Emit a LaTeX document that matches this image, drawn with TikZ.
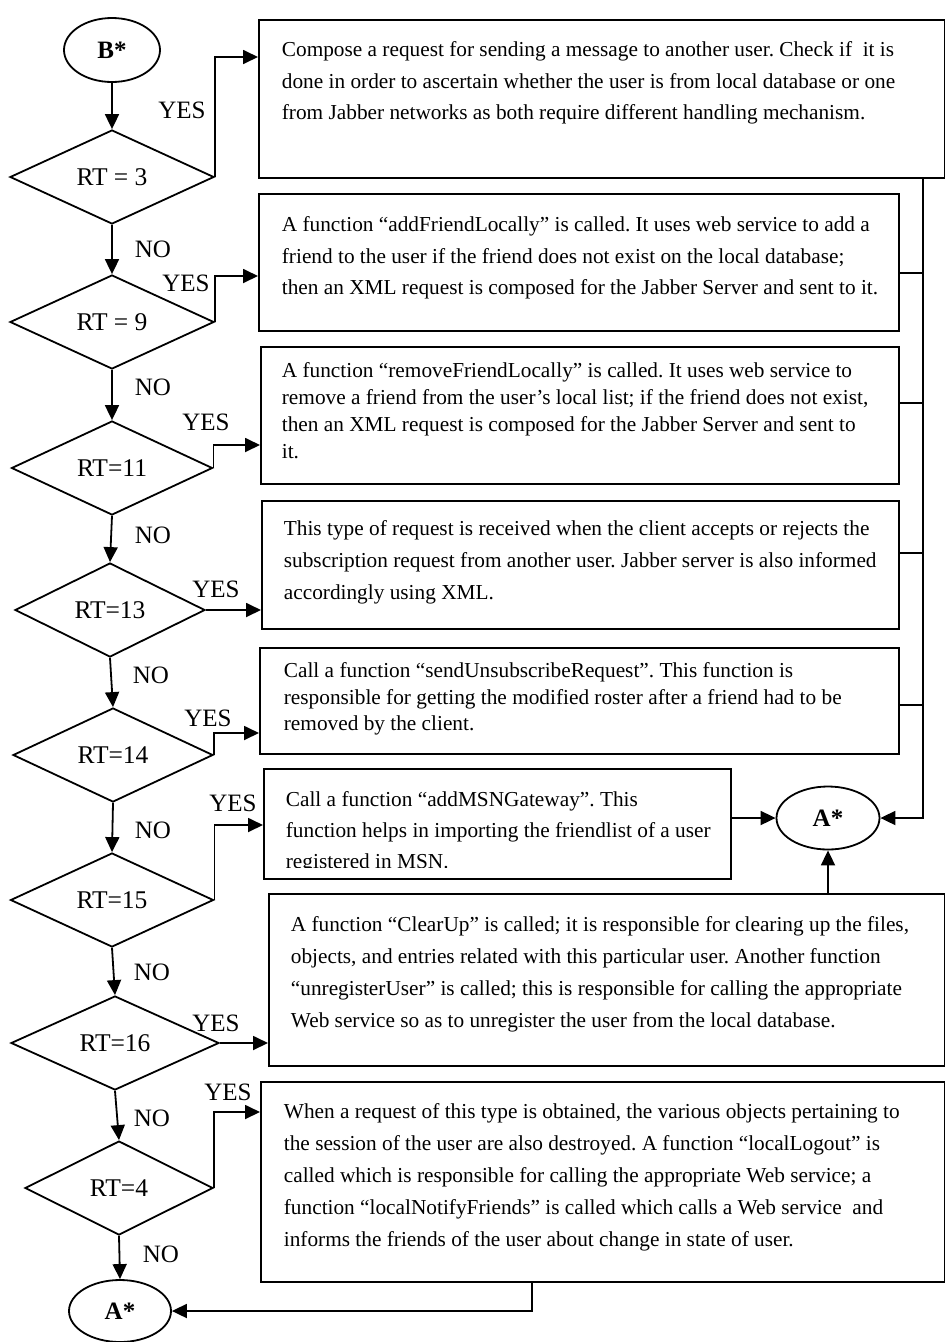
\documentclass[tikz,border=0pt]{standalone}
\usepackage{fontspec}
\setmainfont{Liberation Serif}
\usetikzlibrary{shapes.geometric,arrows.meta}

\begin{document}
\frenchspacing
\begin{tikzpicture}[x=1pt,y=-1pt,
  line width=1.8pt,
  arr/.style={-{Triangle[length=15pt,width=14pt]}},
  box/.style={draw, rectangle, inner sep=0pt, anchor=north west},
  txt/.style={anchor=north west, inner sep=0pt, align=left},
  dec/.style={draw, diamond, shape aspect=2.2, inner sep=0pt, minimum height=94pt,
    font=\fontsize{25.5}{30}\selectfont},
  term/.style={draw, ellipse, inner sep=0pt, font=\fontsize{25}{30}\selectfont\bfseries},
  lab/.style={inner sep=0pt, font=\fontsize{25}{30}\selectfont}
]
\useasboundingbox[fill=white] (0,0) rectangle (945,1342);

% terminals
\node[term, minimum width=96pt, minimum height=64pt] (B) at (112,50) {B*};
\node[term, minimum width=103pt, minimum height=63pt] (A1) at (828,818) {A*};
\node[term, minimum width=102pt, minimum height=62pt] (A2) at (120,1311) {A*};

% decisions
\node[dec, minimum width=204pt] (d3) at (112,177) {RT = 3};
\node[dec, minimum width=204pt] (d9) at (112,322) {RT = 9};
\node[dec, minimum width=201pt] (d11) at (112,468) {RT=11};
\node[dec, minimum width=190pt] (d13) at (110,610) {RT=13};
\node[dec, minimum width=200pt] (d14) at (113,755) {RT=14};
\node[dec, minimum width=203pt] (d15) at (112,900) {RT=15};
\node[dec, minimum width=208pt] (d16) at (115,1043) {RT=16};
\node[dec, minimum width=188pt] (d4) at (119,1188) {RT=4};

% action boxes
\node[box, minimum width=686pt, minimum height=158pt] (b1) at (258,19) {};
\node[box, minimum width=640pt, minimum height=137pt] (b2) at (258,193) {};
\node[box, minimum width=638pt, minimum height=137pt] (b3) at (260,346) {};
\node[box, minimum width=637pt, minimum height=128pt] (b4) at (261,500) {};
\node[box, minimum width=639pt, minimum height=106pt] (b5) at (259,647) {};
\node[box, minimum width=467pt, minimum height=110pt] (b6) at (263,768) {};
\node[box, minimum width=676pt, minimum height=172pt] (b7) at (268,893) {};
\node[box, minimum width=684pt, minimum height=200pt] (b8) at (260,1081) {};

% box texts
\node[txt, font=\fontsize{21.3}{31.5}\selectfont] (t1) at (281,41)
  {Compose a request for sending a message to another user. Check if \ it is\\
   done in order to ascertain whether the user is from local database or one\\
   from Jabber networks as both require different handling mechanism.};
\node[txt, font=\fontsize{21.3}{31.5}\selectfont] (t2) at (281,216)
  {A function “addFriendLocally” is called. It uses web service to add a\\
   friend to the user if the friend does not exist on the local database;\\
   then an XML request is composed for the Jabber Server and sent to it.};
\node[txt, font=\fontsize{21.3}{27}\selectfont] (t3) at (281,362)
  {A function “removeFriendLocally” is called. It uses web service to\\
   remove a friend from the user’s local list; if the friend does not exist,\\
   then an XML request is composed for the Jabber Server and sent to\\
   it.};
\node[txt, font=\fontsize{21.3}{32}\selectfont] (t4) at (283,520)
  {This type of request is received when the client accepts or rejects the\\
   subscription request from another user. Jabber server is also informed\\
   accordingly using XML.};
\node[txt, font=\fontsize{21.3}{26.5}\selectfont] (t5) at (283,662)
  {Call a function “sendUnsubscribeRequest”. This function is\\
   responsible for getting the modified roster after a friend had to be\\
   removed by the client.};
% the last line of this box is cut off by its inner margin
\begin{scope}
  \clip (263,768) rectangle (730,867);
  \node[txt, font=\fontsize{21.3}{31}\selectfont] (t6) at (285,791)
    {Call a function “addMSNGateway”. This\\
     function helps in importing the friendlist of a user\\
     registered in MSN.};
\end{scope}
\node[txt, font=\fontsize{21.3}{32}\selectfont] (t7) at (290,916)
  {A function “ClearUp” is called; it is responsible for clearing up the files,\\
   objects, and entries related with this particular user. Another function\\
   “unregisterUser” is called; this is responsible for calling the appropriate\\
   Web service so as to unregister the user from the local database.};
\node[txt, font=\fontsize{21.3}{32}\selectfont] (t8) at (283,1103)
  {When a request of this type is obtained, the various objects pertaining to\\
   the session of the user are also destroyed. A function “localLogout” is\\
   called which is responsible for calling the appropriate Web service; a\\
   function “localNotifyFriends” is called which calls a Web service \ and\\
   informs the friends of the user about change in state of user.};

% bend points
\coordinate (k3) at (0,57);
\coordinate (k9) at (0,276);
\coordinate (k11) at (0,445);
\coordinate (k14) at (0,733);
\coordinate (k15) at (0,825);
\coordinate (k4) at (0,1112);
\coordinate (bus) at (923,0);
\coordinate (s2) at (0,273);
\coordinate (s3) at (0,403);
\coordinate (s4) at (0,553);
\coordinate (s5) at (0,705);
\coordinate (c8) at (532,0);

% main decision chain
\draw[arr] (B.south) -- (d3.north);
\draw[arr] (d3.south) -- (d9.north);
\draw[arr] (d9.south) -- (d11.north);
\draw[arr] (d11.south) -- (d13.north);
\draw[arr] (d13.south) -- (d14.north);
\draw[arr] (d14.south) -- (d15.north);
\draw[arr] (d15.south) -- (d16.north);
\draw[arr] (d16.south) -- (d4.north);
\draw[arr] (d4.south) -- (A2.north);

% YES branches
\draw[arr] (d3.east) -- (d3.east |- k3) -- (b1.west |- k3);
\draw[arr] (d9.east) -- (d9.east |- k9) -- (b2.west |- k9);
\draw[arr] (d11.east) -- (d11.east |- k11) -- (b3.west |- k11);
\draw[arr] (d13.east) -- (b4.west |- d13.east);
\draw[arr] (d14.east) -- (d14.east |- k14) -- (b5.west |- k14);
\draw[arr] (d15.east) -- (d15.east |- k15) -- (b6.west |- k15);
\draw[arr] (d16.east) -- (b7.west |- d16.east);
\draw[arr] (d4.east) -- (d4.east |- k4) -- (b8.west |- k4);

% collecting line on the right
\draw[arr] (b1.south -| bus) -- (bus |- A1.east) -- (A1.east);
\draw (b2.east |- s2) -- (bus |- s2);
\draw (b3.east |- s3) -- (bus |- s3);
\draw (b4.east |- s4) -- (bus |- s4);
\draw (b5.east |- s5) -- (bus |- s5);
\draw[arr] (b6.east |- A1.west) -- (A1.west);
\draw[arr] (b7.north -| A1.south) -- (A1.south);
\draw[arr] (b8.south -| c8) |- (A2.east);

% branch labels
\node[lab] (y3) at (182,110) {YES};
\node[lab] (n3) at (153,249) {NO};
\node[lab] (y9) at (186,283) {YES};
\node[lab] (n9) at (153,387) {NO};
\node[lab] (y11) at (206,422) {YES};
\node[lab] (n11) at (153,535) {NO};
\node[lab] (y13) at (216,589) {YES};
\node[lab] (n13) at (151,675) {NO};
\node[lab] (y14) at (208,718) {YES};
\node[lab] (n14) at (153,830) {NO};
\node[lab] (y15) at (233,803) {YES};
\node[lab] (n15) at (152,972) {NO};
\node[lab] (y16) at (216,1023) {YES};
\node[lab] (n16) at (152,1118) {NO};
\node[lab] (y4) at (228,1092) {YES};
\node[lab] (n4) at (161,1254) {NO};
\end{tikzpicture}
\end{document}
